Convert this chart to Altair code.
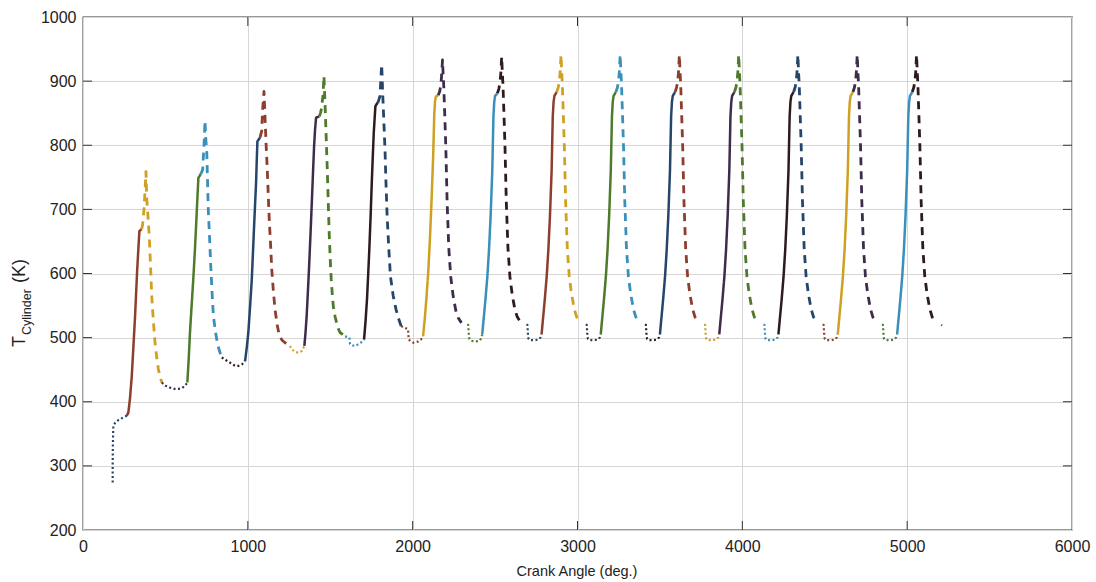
import altair as alt
import pandas as pd

# ---------------- data ----------------
# dotted = gas exchange, solid = compression, dashed = combustion / expansion
DOT_ANG = [
    [180, 180, 181, 184, 195, 212, 240, 265],
    [478, 500, 528, 555, 578, 600, 619, 633],
    [842, 865, 892, 922, 945, 963, 983],
    [1256, 1266, 1280, 1297, 1312, 1327, 1343],
    [1590, 1605, 1616, 1618, 1620, 1635, 1650, 1665, 1685, 1705],
    [1930, 1955, 1972, 1974, 1976, 1990, 2005, 2020, 2035, 2050, 2063],
    [2331, 2337, 2339, 2341, 2344, 2356, 2381, 2406, 2416, 2422],
    [2690, 2696, 2698, 2700, 2703, 2715, 2740, 2765, 2775, 2782],
    [3050, 3056, 3058, 3060, 3063, 3075, 3100, 3125, 3135, 3141],
    [3409, 3415, 3417, 3419, 3422, 3434, 3459, 3484, 3494, 3500],
    [3768, 3774, 3776, 3778, 3781, 3793, 3818, 3843, 3853, 3860],
    [4128, 4134, 4136, 4138, 4141, 4153, 4178, 4203, 4213, 4219],
    [4487, 4493, 4495, 4497, 4500, 4512, 4537, 4562, 4572, 4579],
    [4847, 4853, 4855, 4857, 4860, 4872, 4897, 4922, 4932, 4939],
    [5207, 5212],
]
DOT_T = [
    [274, 300, 330, 362, 367, 371, 375, 378],
    [430, 425, 422, 420, 420, 421, 425, 430],
    [469, 465, 461, 456, 456, 458, 463],
    [487, 482, 479, 477, 477, 479, 487],
    [502, 501, 500, 495, 490, 488, 487, 489, 492, 497],
    [518, 515, 513, 505, 497, 494, 492, 493, 494, 497, 502],
    [520, 520, 512, 503, 498, 495, 494, 495, 499, 505],
    [520, 520, 512, 503, 498, 496, 496, 497, 500, 505],
    [520, 520, 512, 503, 498, 496, 496, 497, 500, 505],
    [520, 520, 512, 503, 498, 496, 496, 497, 500, 505],
    [520, 520, 512, 503, 498, 496, 496, 497, 500, 505],
    [520, 520, 512, 503, 498, 496, 496, 497, 500, 505],
    [520, 520, 512, 503, 498, 496, 496, 497, 500, 505],
    [520, 520, 512, 503, 498, 496, 496, 497, 500, 505],
    [520, 519],
]
SOLID_ANG = [
    [265, 275, 285, 296, 306, 316, 329, 342, 350, 356],
    [633, 641, 649, 659, 669, 678, 686, 693, 700, 707, 714],
    [983, 993, 1003, 1014, 1024, 1031, 1038, 1044, 1050, 1054, 1058, 1066, 1074],
    [1343, 1350, 1357, 1364, 1371, 1380, 1388, 1395, 1402, 1408, 1414, 1424, 1434],
    [1705, 1714, 1723, 1730, 1737, 1745, 1752, 1758, 1764, 1770, 1774, 1781, 1788],
    [2063, 2073, 2083, 2094, 2104, 2114, 2124, 2131, 2136, 2141, 2155],
    [2422, 2432, 2442, 2453, 2463, 2473, 2483, 2490, 2495, 2500, 2514],
    [2782, 2792, 2802, 2813, 2823, 2833, 2843, 2850, 2855, 2860, 2874],
    [3141, 3151, 3161, 3172, 3182, 3192, 3202, 3209, 3214, 3219, 3233],
    [3500, 3510, 3520, 3531, 3541, 3551, 3561, 3568, 3573, 3578, 3592],
    [3860, 3870, 3880, 3891, 3901, 3911, 3921, 3928, 3933, 3938, 3952],
    [4219, 4229, 4239, 4250, 4260, 4270, 4280, 4287, 4292, 4297, 4311],
    [4579, 4589, 4599, 4610, 4620, 4630, 4640, 4647, 4652, 4657, 4671],
    [4939, 4949, 4959, 4970, 4980, 4990, 5000, 5007, 5012, 5017, 5031],
]
SOLID_T = [
    [378, 383, 405, 440, 487, 534, 607, 666, 668, 669],
    [430, 465, 508, 550, 591, 632, 674, 712, 749, 752, 755],
    [463, 483, 508, 550, 591, 632, 674, 708, 742, 775, 806, 809, 812],
    [487, 508, 534, 570, 607, 660, 710, 755, 799, 825, 843, 844, 845],
    [497, 525, 560, 598, 638, 690, 742, 782, 820, 845, 861, 864, 866],
    [502, 528, 560, 600, 650, 710, 780, 848, 869, 876, 878],
    [505, 533, 561, 595, 636, 690, 760, 845, 868, 877, 881],
    [505, 533, 561, 595, 636, 690, 760, 845, 868, 877, 883],
    [505, 533, 561, 595, 636, 690, 760, 845, 868, 877, 883],
    [505, 533, 561, 595, 636, 690, 760, 845, 868, 877, 883],
    [505, 533, 561, 595, 636, 690, 760, 845, 868, 877, 883],
    [505, 533, 561, 595, 636, 690, 760, 845, 868, 877, 883],
    [505, 533, 561, 595, 636, 690, 760, 845, 868, 877, 883],
    [505, 533, 561, 595, 636, 690, 760, 845, 868, 877, 883],
]
DASH_ANG = [
    [356, 362, 370, 376, 382, 387, 394, 402, 410, 417, 427, 437, 447, 457, 467, 478],
    [714, 720, 726, 731, 735, 740, 745, 751, 760, 768, 775, 783, 791, 803, 815, 828, 842],
    [1074, 1084, 1090, 1094, 1098, 1101, 1104, 1111, 1118, 1124, 1130, 1138, 1145, 1155, 1165, 1178, 1191, 1208, 1226, 1241, 1256],
    [1434, 1441, 1448, 1456, 1462, 1465, 1468, 1475, 1482, 1488, 1494, 1500, 1506, 1513, 1520, 1530, 1539, 1549, 1559, 1575, 1590],
    [1788, 1795, 1802, 1807, 1812, 1815, 1818, 1825, 1832, 1838, 1845, 1855, 1865, 1882, 1899, 1914, 1930],
    [2155, 2164, 2171, 2176, 2181, 2185, 2189, 2195, 2201, 2209, 2219, 2231, 2245, 2261, 2276, 2296],
    [2514, 2523, 2530, 2535, 2540, 2544, 2548, 2554, 2560, 2568, 2578, 2590, 2604, 2620, 2635, 2655],
    [2874, 2883, 2890, 2895, 2900, 2904, 2908, 2914, 2920, 2928, 2938, 2950, 2964, 2980, 2995, 3015],
    [3233, 3242, 3249, 3254, 3259, 3263, 3267, 3273, 3279, 3287, 3297, 3309, 3323, 3339, 3354, 3374],
    [3592, 3601, 3608, 3613, 3618, 3622, 3626, 3632, 3638, 3646, 3656, 3668, 3682, 3698, 3713, 3733],
    [3952, 3961, 3968, 3973, 3978, 3982, 3986, 3992, 3998, 4006, 4016, 4028, 4042, 4058, 4073, 4093],
    [4311, 4320, 4327, 4332, 4337, 4341, 4345, 4351, 4357, 4365, 4375, 4387, 4401, 4417, 4432, 4452],
    [4671, 4680, 4687, 4692, 4697, 4701, 4705, 4711, 4717, 4725, 4735, 4747, 4761, 4777, 4792, 4812],
    [5031, 5040, 5047, 5052, 5057, 5061, 5065, 5071, 5077, 5085, 5095, 5107, 5121, 5137, 5152, 5172],
]
DASH_T = [
    [669, 677, 700, 727, 759, 716, 690, 658, 610, 565, 525, 492, 470, 451, 440, 430],
    [755, 758, 762, 785, 805, 838, 810, 788, 700, 655, 612, 570, 534, 510, 492, 479, 469],
    [812, 822, 856, 870, 884, 865, 845, 800, 762, 722, 684, 645, 607, 572, 544, 520, 503, 496, 492, 489, 487],
    [845, 851, 858, 879, 908, 885, 866, 815, 762, 710, 660, 622, 590, 565, 545, 532, 523, 514, 508, 505, 502],
    [866, 871, 877, 903, 926, 905, 882, 838, 794, 742, 690, 640, 596, 565, 544, 530, 518],
    [878, 884, 894, 910, 933, 910, 890, 845, 798, 712, 640, 595, 566, 543, 531, 523],
    [881, 888, 898, 913, 938, 913, 893, 847, 799, 712, 640, 595, 567, 544, 532, 524],
    [883, 890, 900, 915, 941, 915, 895, 848, 800, 712, 640, 595, 568, 545, 532, 524],
    [883, 890, 900, 915, 941, 915, 895, 848, 800, 712, 640, 595, 568, 545, 532, 524],
    [883, 890, 900, 915, 941, 915, 895, 848, 800, 712, 640, 595, 568, 545, 532, 524],
    [883, 890, 900, 915, 941, 915, 895, 848, 800, 712, 640, 595, 568, 545, 532, 524],
    [883, 890, 900, 915, 941, 915, 895, 848, 800, 712, 640, 595, 568, 545, 532, 524],
    [883, 890, 900, 915, 941, 915, 895, 848, 800, 712, 640, 595, 568, 545, 532, 524],
    [883, 890, 900, 915, 941, 915, 895, 848, 800, 712, 640, 595, 568, 545, 532, 524],
]
# line colour cycle (segments take the colours in turn)
COLORS = ["#26456a", "#8e3e2c", "#cfa021", "#3e2c4d", "#4e7a2b", "#3a8fbb", "#2e1b1e"]
X_TICKS = [0, 1000, 2000, 3000, 4000, 5000, 6000]
Y_TICKS = [200, 300, 400, 500, 600, 700, 800, 900, 1000]
X_INNER = [1000, 2000, 3000, 4000, 5000]
Y_INNER = [300, 400, 500, 600, 700, 800, 900]

# ---------------- build table ----------------
rows = []
seg_i = 0


def add(style, angs, temps):
    global seg_i
    for k, (a, t) in enumerate(zip(angs, temps)):
        rows.append({"seg": seg_i, "style": style, "k": k, "ang": a, "T": t,
                     "col": COLORS[seg_i % len(COLORS)]})
    seg_i += 1


add("dot", DOT_ANG[0], DOT_T[0])
for c in range(len(SOLID_ANG)):
    add("solid", SOLID_ANG[c], SOLID_T[c])
    add("dash", DASH_ANG[c], DASH_T[c])
    add("dot", DOT_ANG[c + 1], DOT_T[c + 1])
df = pd.DataFrame(rows)

W, H = 989, 513
FONT = "Liberation Sans"
xs = alt.Scale(domain=[0, 6000], nice=False, zero=False)
ys = alt.Scale(domain=[200, 1000], nice=False, zero=False)
xaxis = alt.Axis(values=X_TICKS, title=None, grid=True, ticks=False, domain=False,
                 labelFontSize=16, labelPadding=8, labelFlush=False, format="d",
                 labelColor="#222222", labelFont=FONT, gridColor="#d6d6d6")
yaxis = alt.Axis(values=Y_TICKS, title=None, grid=True, ticks=False, domain=False,
                 labelFontSize=16, labelPadding=7, labelFlush=False, format="d",
                 labelColor="#222222", labelFont=FONT, gridColor="#d6d6d6")


def lines(style, dash, width):
    return alt.Chart(df[df["style"] == style]).mark_line(
        strokeDash=dash, strokeWidth=width, strokeCap="butt", strokeJoin="round"
    ).encode(
        x=alt.X("ang:Q", scale=xs, axis=xaxis),
        y=alt.Y("T:Q", scale=ys, axis=yaxis),
        color=alt.Color("col:N", scale=None),
        detail="seg:N",
        order="k:Q",
    )


solid = lines("solid", [1, 0], 2.5)
dashed = lines("dash", [8, 6], 2.8)
dotted = lines("dot", [2, 2.5], 2.2)

xt = pd.DataFrame({"v": X_INNER})
yt = pd.DataFrame({"v": Y_INNER})
tick_col = "#333333"
xt_bot = alt.Chart(xt).mark_rule(color=tick_col, strokeWidth=1).encode(
    x=alt.X("v:Q", scale=xs, axis=xaxis), y=alt.value(H), y2=alt.value(H - 9))
xt_top = alt.Chart(xt).mark_rule(color=tick_col, strokeWidth=1).encode(
    x=alt.X("v:Q", scale=xs, axis=xaxis), y=alt.value(0), y2=alt.value(9))
yt_left = alt.Chart(yt).mark_rule(color=tick_col, strokeWidth=1).encode(
    y=alt.Y("v:Q", scale=ys, axis=yaxis), x=alt.value(0), x2=alt.value(9))
yt_right = alt.Chart(yt).mark_rule(color=tick_col, strokeWidth=1).encode(
    y=alt.Y("v:Q", scale=ys, axis=yaxis), x=alt.value(W - 9), x2=alt.value(W))

one = pd.DataFrame({"a": [0]})
t_main = alt.Chart(one).mark_text(text="T", angle=270, align="left", baseline="middle",
                                  font=FONT, fontSize=18, color="#222222").encode(
    x=alt.value(20 - 83), y=alt.value(347 - 17))
t_sub = alt.Chart(one).mark_text(text="Cylinder", angle=270, align="left", baseline="middle",
                                 font=FONT, fontSize=12.5, color="#222222").encode(
    x=alt.value(27 - 83), y=alt.value(335 - 17))
t_unit = alt.Chart(one).mark_text(text="(K)", angle=270, align="left", baseline="middle",
                                  font=FONT, fontSize=18, color="#222222").encode(
    x=alt.value(20 - 83), y=alt.value(283 - 17))
x_title = alt.Chart(one).mark_text(text="Crank Angle (deg.)", align="center",
                                   baseline="alphabetic", font=FONT, fontSize=14.5,
                                   color="#222222").encode(
    x=alt.value(577 - 83), y=alt.value(576 - 17))

chart = alt.layer(
    xt_bot, xt_top, yt_left, yt_right, solid, dashed, dotted,
    t_main, t_sub, t_unit, x_title
).properties(
    width=W, height=H,
    padding={"left": 83, "top": 17, "right": 24, "bottom": 52},
    autosize=alt.AutoSizeParams(type="none"),
    background="white",
).configure_view(stroke="#333333", strokeWidth=1.3)

chart.save("out.html", embed_options={"renderer": "svg", "actions": False})
